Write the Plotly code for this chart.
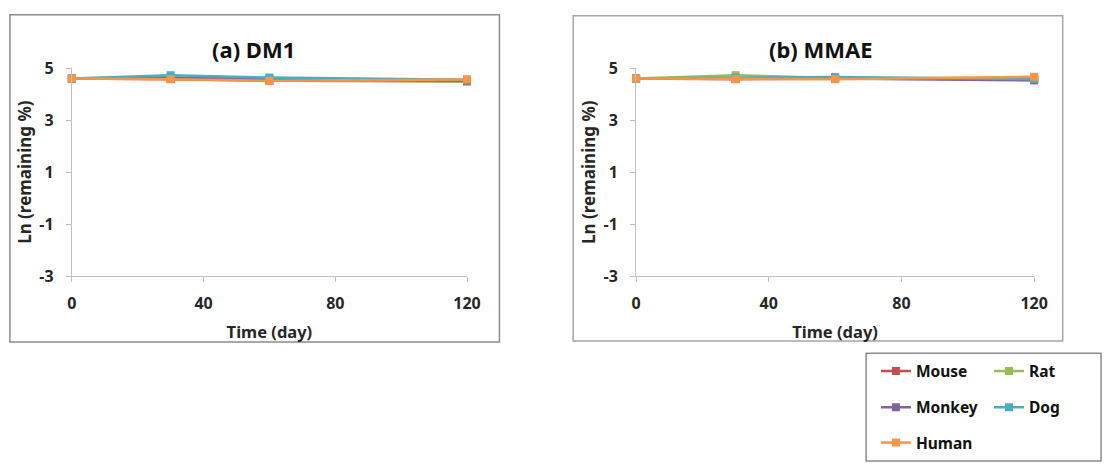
import plotly.graph_objects as go

W, H = 1117, 474

days = [0, 30, 60, 120]
species = ["Mouse", "Rat", "Monkey", "Dog", "Human"]
colors = ["#C0504D", "#9BBB59", "#8064A2", "#4BACC6", "#F79646"]

# Ln(remaining %) values
dm1_mouse = [4.605, 4.58, 4.52, 4.50]
dm1_rat = [4.605, 4.62, 4.56, 4.48]
dm1_monkey = [4.605, 4.64, 4.58, 4.52]
dm1_dog = [4.605, 4.73, 4.64, 4.56]
dm1_human = [4.605, 4.58, 4.52, 4.57]

mmae_mouse = [4.605, 4.58, 4.59, 4.58]
mmae_rat = [4.605, 4.73, 4.62, 4.62]
mmae_monkey = [4.605, 4.60, 4.60, 4.53]
mmae_dog = [4.605, 4.62, 4.66, 4.58]
mmae_human = [4.605, 4.58, 4.58, 4.67]

dm1 = [dm1_mouse, dm1_rat, dm1_monkey, dm1_dog, dm1_human]
mmae = [mmae_mouse, mmae_rat, mmae_monkey, mmae_dog, mmae_human]

x_ticks = [0, 40, 80, 120]
x_labels = ["0", "40", "80", "120"]
y_ticks = [-3, -1, 1, 3, 5]
y_labels = ["-3", "-1", "1", "3", "5"]

FONT = "Noto Sans"
TXT = "#262626"

def px_x(p):
    return p / W

def px_y(p):
    return 1 - p / H

fig = go.Figure()

legend_ids = ["legend", "legend2", "legend3", "legend4", "legend5"]

for i, name in enumerate(species):
    fig.add_trace(go.Scatter(
        x=days, y=dm1[i], name=name, mode="lines+markers",
        line=dict(color=colors[i], width=2.5),
        marker=dict(symbol="square", size=8, color=colors[i]),
        xaxis="x", yaxis="y", cliponaxis=False,
        legend=legend_ids[i], showlegend=True,
    ))
for i, name in enumerate(species):
    fig.add_trace(go.Scatter(
        x=days, y=mmae[i], name=name, mode="lines+markers",
        line=dict(color=colors[i], width=2.5),
        marker=dict(symbol="square", size=8, color=colors[i]),
        xaxis="x2", yaxis="y2", cliponaxis=False,
        showlegend=False,
    ))

tickfont = dict(family=FONT, size=16, color=TXT, weight="bold")

def xaxis(domain, anchor):
    return dict(domain=domain, anchor=anchor, range=[0, 120],
                tickmode="array", tickvals=x_ticks, ticktext=x_labels,
                ticks="outside", ticklen=5, tickcolor="#c0c0c0",
                ticklabelstandoff=8,
                showline=True, linecolor="#c0c0c0", linewidth=1,
                showgrid=False, zeroline=False, tickfont=tickfont,
                title=dict(text="Time (day)",
                           font=dict(family=FONT, size=16.5, color=TXT, weight="bold"),
                           standoff=13))

def yaxis(domain, anchor):
    return dict(domain=domain, anchor=anchor, range=[-3, 5],
                tickmode="array", tickvals=y_ticks, ticktext=y_labels,
                ticks="outside", ticklen=5, tickcolor="#c0c0c0",
                ticklabelstandoff=9,
                showline=True, linecolor="#c0c0c0", linewidth=1,
                showgrid=False, zeroline=False, tickfont=tickfont,
                title=dict(text="Ln (remaining %)",
                           font=dict(family=FONT, size=17, color=TXT, weight="bold"),
                           standoff=3))

ydom = [px_y(278), px_y(60)]

legend_pos = [(886, 378), (1001, 378), (886, 416), (1001, 416), (886, 453)]
legends = {}
for lid, (lx, ly) in zip(legend_ids, legend_pos):
    legends[lid] = dict(x=px_x(lx), y=px_y(ly), xanchor="left", yanchor="middle",
                        bgcolor="rgba(0,0,0,0)", borderwidth=0,
                        font=dict(family=FONT, size=15.5, color="#111", weight="bold"),
                        itemclick=False, itemdoubleclick=False)

fig.update_layout(
    width=W, height=H,
    margin=dict(l=0, r=0, t=0, b=0),
    paper_bgcolor="white", plot_bgcolor="white",
    font=dict(family=FONT, color=TXT),
    xaxis=xaxis([px_x(68), px_x(470)], "y"),
    yaxis=yaxis(ydom, "x"),
    xaxis2=xaxis([px_x(642), px_x(1047)], "y2"),
    yaxis2=yaxis(ydom, "x2"),
    **legends,
    shapes=[
        dict(type="rect", xref="paper", yref="paper",
             x0=px_x(5), x1=px_x(503), y0=px_y(347), y1=px_y(4),
             line=dict(color="#8c8c8c", width=1.5), layer="below"),
        dict(type="rect", xref="paper", yref="paper",
             x0=px_x(578), x1=px_x(1076), y0=px_y(346), y1=px_y(5),
             line=dict(color="#a6a6a6", width=1.5), layer="below"),
        dict(type="rect", xref="paper", yref="paper",
             x0=px_x(876), x1=px_x(1115), y0=px_y(472), y1=px_y(359),
             line=dict(color="#8c8c8c", width=1.5), layer="below"),
    ],
    annotations=[
        dict(text="(a) DM1", x=px_x(253), y=px_y(40), xref="paper", yref="paper",
             showarrow=False, xanchor="center", yanchor="middle",
             font=dict(family=FONT, size=22, color="#111", weight="bold")),
        dict(text="(b) MMAE", x=px_x(830), y=px_y(40), xref="paper", yref="paper",
             showarrow=False, xanchor="center", yanchor="middle",
             font=dict(family=FONT, size=22, color="#111", weight="bold")),
    ],
)

fig.write_html("out.html")
